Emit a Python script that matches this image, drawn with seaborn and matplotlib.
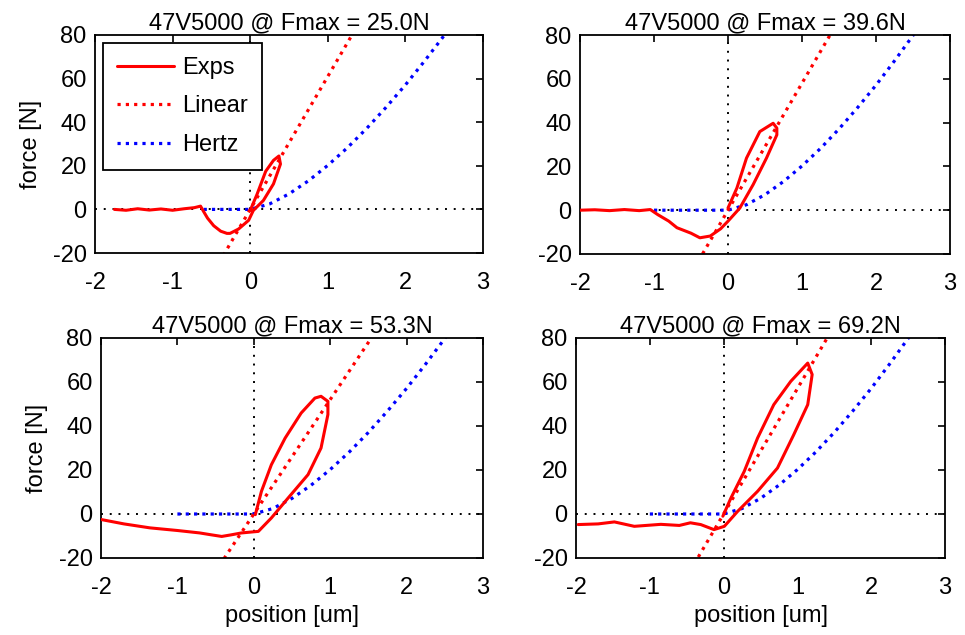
import numpy as np
import pandas as pd
import matplotlib
matplotlib.use("Agg")
import matplotlib.pyplot as plt
import seaborn as sns

sns.set_style("white")
plt.rcParams['font.family'] = ['Liberation Sans', 'DejaVu Sans']
plt.rcParams['text.color'] = 'black'
plt.rcParams['axes.labelcolor'] = 'black'
plt.rcParams['xtick.color'] = 'black'
plt.rcParams['ytick.color'] = 'black'

titles = ["47V5000 @ Fmax = 25.0N", "47V5000 @ Fmax = 39.6N",
          "47V5000 @ Fmax = 53.3N", "47V5000 @ Fmax = 69.2N"]

# Experimental curves (position um, force N)
exp1_x = [-1.75, -1.6, -1.45, -1.3, -1.15, -1.0, -0.85, -0.72, -0.64, -0.6, -0.55, -0.47, -0.38,
          -0.3, -0.26, -0.15, -0.02, 0.04, 0.17, 0.3, 0.39, 0.37, 0.3, 0.2, 0.09, 0.0]
exp1_y = [0.0, -0.4, 0.3, -0.3, 0.2, -0.4, 0.3, 0.8, 1.5, -1.0, -4.0, -7.5, -10.0,
          -11.0, -11.0, -9.0, -5.0, -0.5, 4.1, 11.7, 20.8, 24.5, 22.5, 17.5, 7.1, -0.5]

exp2_x = [-2.0, -1.8, -1.6, -1.4, -1.2, -1.05, -0.95, -0.8, -0.69, -0.5, -0.38, -0.24, -0.1,
          0.0, 0.16, 0.34, 0.52, 0.66, 0.66, 0.61, 0.43, 0.25, 0.12, 0.0]
exp2_y = [0.0, 0.2, -0.2, 0.3, -0.2, 0.3, -2.0, -5.0, -8.0, -10.5, -12.6, -11.8, -8.5,
          -5.0, 1.0, 11.7, 23.8, 34.4, 37.5, 39.7, 35.9, 23.8, 10.1, 1.0]

exp3_x = [-2.0, -1.7, -1.36, -1.0, -0.71, -0.55, -0.42, -0.3, -0.16, 0.06, 0.23, 0.45,
          0.71, 0.88, 0.97, 0.97, 0.88, 0.8, 0.62, 0.41, 0.23, 0.1, 0.02]
exp3_y = [-2.5, -4.5, -6.3, -7.5, -8.6, -9.5, -10.2, -9.5, -8.6, -7.9, -1.8, 7.3,
          17.9, 30.0, 45.2, 51.2, 53.5, 52.7, 45.9, 34.5, 22.4, 10.3, -0.3]

exp4_x = [-1.97, -1.7, -1.48, -1.21, -0.85, -0.6, -0.45, -0.31, -0.13, 0.01, 0.19, 0.46,
          0.73, 0.95, 1.14, 1.2, 1.14, 0.91, 0.68, 0.46, 0.28, 0.1, -0.01]
exp4_y = [-4.8, -4.5, -3.6, -5.6, -4.7, -5.2, -4.0, -4.8, -7.1, -5.6, 1.2, 10.3,
          20.9, 36.0, 49.7, 63.4, 68.6, 60.3, 49.7, 34.5, 19.4, 7.3, -1.0]

exp_x = [exp1_x, exp2_x, exp3_x, exp4_x]
exp_y = [exp1_y, exp2_y, exp3_y, exp4_y]

# Linear fit endpoints
lin_x = [[-0.4, 1.6], [-0.4, 1.6], [-0.45, 1.8], [-0.4, 1.6]]
lin_y = [[-24.4, 97.6], [-23.2, 92.8], [-23.4, 93.6], [-22.8, 91.2]]

# Hertz model
hertz_x = [[-0.6, 0.0, 0.25, 0.5, 0.75, 1.0, 1.25, 1.5, 1.75, 2.0, 2.25, 2.5, 2.6]] + \
          [[-1.0, 0.0, 0.25, 0.5, 0.75, 1.0, 1.25, 1.5, 1.75, 2.0, 2.25, 2.5, 2.6]] * 3
hertz_y = [[0.0, 0.0, 2.5, 7.1, 13.1, 20.2, 28.2, 37.1, 46.8, 57.1, 68.2, 79.8, 84.7]] * 4

xticks = [-2, -1, 0, 1, 2, 3]
yticks = [-20, 0, 20, 40, 60, 80]

fig = plt.figure(figsize=(9.65, 6.35), dpi=100)
W, H = 965, 635
boxes = [(95, 483, 35, 253), (580, 950, 35, 254), (101, 483, 338, 558), (576, 945, 338, 558)]

red = '#ff0000'
blue = '#0000ff'
fs = 17

for i, (l, r, t, b) in enumerate(boxes):
    ax = fig.add_axes([l / W, 1 - b / H, (r - l) / W, (b - t) / H])
    ax.axhline(0, color='black', lw=1.4, ls=(0, (1, 3.5)), zorder=1)
    ax.axvline(0, color='black', lw=1.4, ls=(0, (1, 3.5)), zorder=1)
    sns.lineplot(x=hertz_x[i], y=hertz_y[i], ax=ax, color=blue, lw=2.3,
                 linestyle=(0, (1, 1.6)), sort=False, estimator=None, label='Hertz', zorder=2)
    sns.lineplot(x=lin_x[i], y=lin_y[i], ax=ax, color=red, lw=2.3,
                 linestyle=(0, (1, 1.6)), sort=False, estimator=None, label='Linear', zorder=2)
    sns.lineplot(x=exp_x[i], y=exp_y[i], ax=ax, color=red, lw=2.2,
                 sort=False, estimator=None, label='Exps', zorder=3)
    ax.set_xlim(-2, 3)
    ax.set_ylim(-20, 80)
    ax.set_xticks(xticks)
    ax.set_yticks(yticks)
    ax.set_xticklabels([str(v) for v in xticks])
    ax.set_yticklabels([str(v) for v in yticks])
    ax.tick_params(direction='in', length=5, width=1.2, top=True, right=True,
                   labelsize=fs, colors='black', labelcolor='black')
    ax.tick_params(axis='x', pad=14)
    ax.tick_params(axis='y', pad=6)
    for s in ax.spines.values():
        s.set_visible(True)
        s.set_color('black')
        s.set_linewidth(1.3)
    ax.set_title(titles[i], fontsize=fs, pad=4, color='black')
    if i % 2 == 0:
        ax.set_ylabel('force [N]', fontsize=fs, labelpad=8, color='black')
    if i >= 2:
        ax.set_xlabel('position [um]', fontsize=fs, labelpad=4, color='black')
    if i == 0:
        h, lab = ax.get_legend_handles_labels()
        order = [lab.index('Exps'), lab.index('Linear'), lab.index('Hertz')]
        leg = ax.legend([h[k] for k in order], [lab[k] for k in order], loc='upper left',
                        fontsize=fs, frameon=True, fancybox=False, edgecolor='black',
                        framealpha=1, handlelength=2.4, borderpad=0.6, labelspacing=0.7,
                        handletextpad=0.35, borderaxespad=0, bbox_to_anchor=(0.02, 0.965))
        leg.get_frame().set_linewidth(1.3)
        for txt in leg.get_texts():
            txt.set_color('black')
    else:
        if ax.get_legend() is not None:
            ax.get_legend().remove()

fig.savefig('out.png', dpi=100)
